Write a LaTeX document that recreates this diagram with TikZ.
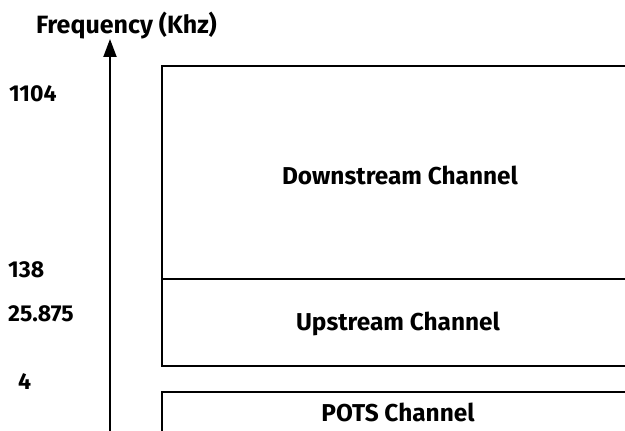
\documentclass[tikz,border=0pt]{standalone}
\usepackage{fontspec}
\setmainfont{Fira Sans}[BoldFont={Fira Sans Bold}]
\usetikzlibrary{arrows.meta}
\begin{document}
\begin{tikzpicture}[x=1pt,y=1pt,
  lbl/.style={font=\bfseries\fontsize{23}{26}\selectfont, inner sep=0pt},
  chan/.style={font=\bfseries\fontsize{24.4}{27}\selectfont, inner sep=0pt},
  ttl/.style={font=\bfseries\fontsize{25}{28}\selectfont, inner sep=0pt},
  boxline/.style={line width=2.4pt},
  axisline/.style={line width=2pt, -{Triangle[length=18pt,width=13pt]}}]
\useasboundingbox (0,0) rectangle (625,431);
% axis
\coordinate (a0) at (110,-2);
\coordinate (a1) at (110,392);
\draw[axisline] (a0) -- (a1);
\node[ttl] (title) at (126.5,405) {Frequency (Khz)};
% frequency labels
\node[lbl, anchor=west] (f1104) at (9,337) {1104};
\node[lbl, anchor=west] (f138) at (8,161) {138};
\node[lbl, anchor=west] (f25) at (8,117) {25.875};
\node[lbl, anchor=west] (f4) at (18,49) {4};
% boxes
\draw[boxline] (630,365) -- (162,365) -- (162,65) -- (630,65);
\draw[boxline] (162,152) -- (630,152);
\draw[boxline] (162,-5) -- (162,39) -- (630,39);
% channel labels
\node[chan] (down) at (400,256) {Downstream Channel};
\node[chan] (up) at (398,107) {Upstream Channel};
\node[chan] (pots) at (398,19) {POTS Channel};
\end{tikzpicture}
\end{document}
